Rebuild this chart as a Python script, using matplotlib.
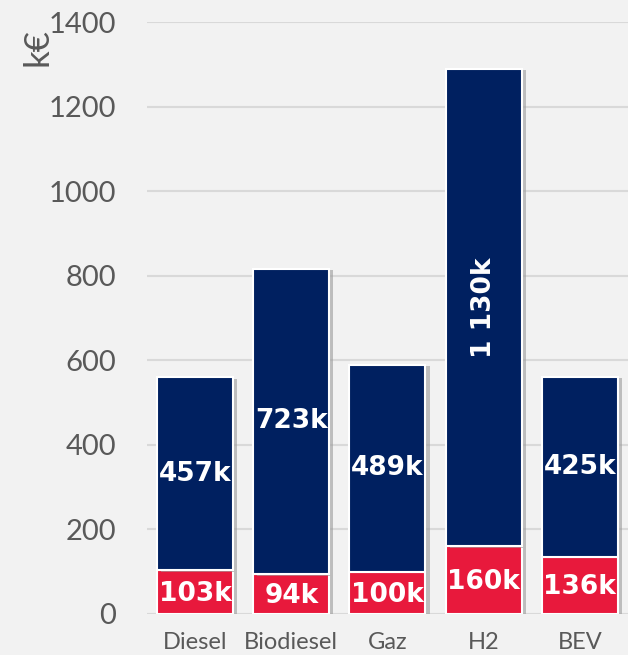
import matplotlib
matplotlib.use("Agg")
import matplotlib.pyplot as plt
import matplotlib.patheffects as pe

categories = ["Diesel", "Biodiesel", "Gaz", "H2", "BEV"]
lower_values = [103, 94, 100, 160, 136]
upper_values = [457, 723, 489, 1130, 425]
lower_labels = ["103k", "94k", "100k", "160k", "136k"]
upper_labels = ["457k", "723k", "489k", "1 130k", "425k"]

BG = "#F2F2F2"
NAVY = "#002060"
RED = "#E8193C"
GRID = "#D9D9D9"
TEXT = "#595959"

fig = plt.figure(figsize=(6.28, 6.55), dpi=100, facecolor=BG)
ax = fig.add_axes([0.234, 0.0626, 0.766, 0.9034], facecolor=BG)

x = range(len(categories))
shadow = [pe.SimplePatchShadow(offset=(3, -1), shadow_rgbFace="#9a9a9a", alpha=0.6), pe.Normal()]
ax.bar(x, lower_values, width=0.79, color=RED, edgecolor="white", linewidth=1.5,
       zorder=3, path_effects=shadow)
ax.bar(x, upper_values, width=0.79, bottom=lower_values, color=NAVY,
       edgecolor="white", linewidth=1.5, zorder=3, path_effects=shadow)

for i, (lo, up) in enumerate(zip(lower_values, upper_values)):
    ax.text(i, lo / 2 - 4, lower_labels[i], ha="center", va="center", color="white",
            fontsize=19, fontweight="bold", family="DejaVu Sans", zorder=4)
    rot = 90 if up > 1000 else 0
    ax.text(i, lo + up / 2, upper_labels[i], ha="center", va="center", color="white",
            fontsize=19, fontweight="bold", family="DejaVu Sans", rotation=rot, zorder=4)

ax.set_ylim(0, 1400)
ax.set_xlim(-0.5, 4.5)
ax.set_yticks(range(0, 1401, 200))
ax.set_xticks(list(x))
ax.set_xticklabels(categories, fontsize=17, color=TEXT, family="Lato")
ax.tick_params(axis="y", labelsize=21, labelcolor=TEXT, length=0, pad=22)
ax.tick_params(axis="x", length=0, pad=13)
for lab in ax.get_yticklabels():
    lab.set_family("Lato")
ax.yaxis.grid(True, color=GRID, linewidth=1.5, zorder=0)
for s in ax.spines.values():
    s.set_visible(False)

fig.text(37 / 628, 1 - 47 / 655, "k€", rotation=90, ha="center", va="center",
         fontsize=25, color=TEXT, family="Lato")

fig.savefig("out.png", dpi=100, facecolor=BG)
